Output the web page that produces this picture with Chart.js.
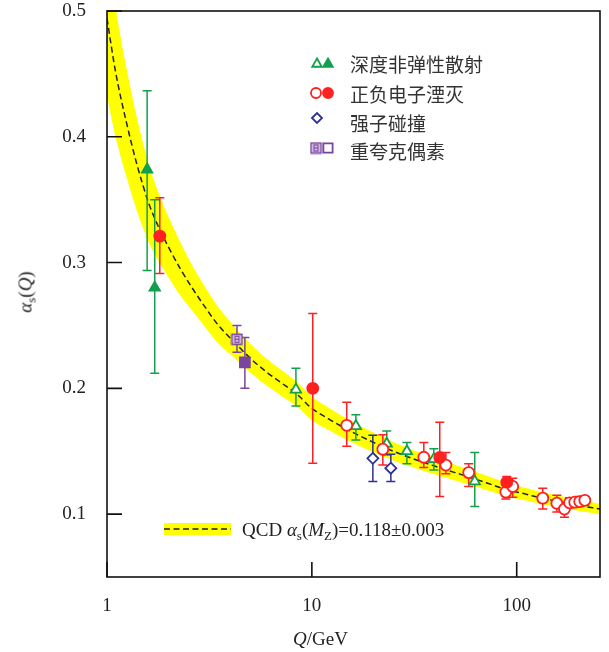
<!DOCTYPE html>
<html>
<head>
<meta charset="utf-8">
<script src="https://cdn.jsdelivr.net/npm/chart.js@4.4.1/dist/chart.umd.min.js"></script>
<style>
    html, body { margin: 0; padding: 0; background: #fff; }
    #wrap { position: relative; width: 609px; height: 652px; }
    #chart { position: absolute; left: 0; top: 0; }
    .lbl { position: absolute; font-family: "Liberation Serif", "Times New Roman", serif; font-size: 19px; color: #222; white-space: nowrap; line-height: 1; }
    .lbl sub { font-size: 13px; vertical-align: -4px; line-height: 0; }
    .cn { position: absolute; left: 350px; font-family: "Noto Sans CJK SC", sans-serif; font-size: 19px; color: #333; white-space: nowrap; line-height: 1; }
    #ytitle { left: 25px; top: 292px; transform: translate(-50%, -50%) rotate(-90deg); }
</style>
</head>
<body>
<div id="wrap">
    <canvas id="chart" width="609" height="652"></canvas>
    <div class="lbl" id="ytitle"><i>α</i><sub>s</sub>(<i>Q</i>)</div>
    <div class="lbl" style="left:293px; top:629px;"><i>Q</i>/GeV</div>
    <div class="lbl" style="left:242px; top:520px;">QCD <i>α</i><sub>s</sub>(<i>M</i><sub>Z</sub>)=0.118±0.003</div>
    <div class="cn" style="top:54px;">深度非弹性散射</div>
    <div class="cn" style="top:84px;">正负电子湮灭</div>
    <div class="cn" style="top:113px;">强子碰撞</div>
    <div class="cn" style="top:141px;">重夸克偶素</div>
</div>
<script>
// axis ticks
const xTicks = [1, 10, 100];
const yTicks = [0.1, 0.2, 0.3, 0.4, 0.5];

// QCD running coupling curve
const qcdQ = [1, 1.1, 1.25, 1.4, 1.6, 1.8, 2, 2.3, 2.6, 3, 3.5, 4, 5, 6, 7, 8.5, 10, 12, 15, 20, 25, 30, 40, 50, 65, 80, 91.2, 110, 130, 160, 200, 255];
const qcdAlpha = [0.494, 0.452, 0.41, 0.378, 0.347, 0.327, 0.312, 0.294, 0.28, 0.265, 0.25, 0.24, 0.224, 0.213, 0.205, 0.195, 0.184, 0.176, 0.167, 0.157, 0.150, 0.145, 0.138, 0.133, 0.127, 0.122, 0.119, 0.116, 0.113, 0.110, 0.107, 0.104];
const qcdSpread = [0.062, 0.052, 0.043, 0.037, 0.031, 0.027, 0.024, 0.021, 0.018, 0.016, 0.0145, 0.013, 0.0115, 0.0108, 0.0103, 0.0098, 0.0094, 0.009, 0.0085, 0.0078, 0.0073, 0.007, 0.0066, 0.0062, 0.0058, 0.0055, 0.0053, 0.005, 0.0048, 0.0046, 0.0044, 0.0042];

// deep inelastic scattering (open / filled triangles)
const disOpenQ = [8.36, 16.4, 23.2, 29.1, 39.4, 62.4];
const disOpenA = [0.199, 0.170, 0.156, 0.150, 0.1437, 0.126];
const disOpenHi = [0.216, 0.179, 0.166, 0.157, 0.152, 0.149];
const disOpenLo = [0.186, 0.159, 0.147, 0.140, 0.135, 0.106];
const disFillQ = [1.57, 1.71];
const disFillA = [0.374, 0.280];
const disFillHi = [0.4365, 0.350];
const disFillLo = [0.2937, 0.212];

// e+e- annihilation (open / filled circles)
const eeOpenQ = [14.8, 22.2, 35.2, 45.1, 58.3, 88.5, 95.6, 134, 157, 171, 181, 192, 203, 215];
const eeOpenA = [0.1706, 0.1516, 0.1452, 0.139, 0.133, 0.1175, 0.122, 0.1127, 0.1087, 0.104, 0.109, 0.1095, 0.110, 0.111];
const eeOpenHi = [0.189, 0.163, 0.157, 0.149, 0.140, 0.123, 0.1286, 0.1206, 0.115, 0.108, 0.113, 0.113, 0.114, 0.114];
const eeOpenLo = [0.154, 0.139, 0.137, 0.132, 0.122, 0.112, 0.1135, 0.104, 0.1016, 0.0976, 0.105, 0.106, 0.106, 0.107];
const eeFillQ = [1.81, 10.1, 42.1, 89.4];
const eeFillA = [0.321, 0.200, 0.145, 0.1254];
const eeFillHi = [0.3516, 0.2595, 0.173, 0.130];
const eeFillLo = [0.2913, 0.1405, 0.114, 0.120];

// hadron collisions (diamonds)
const hadQ = [19.85, 24.3];
const hadA = [0.1444, 0.1365];
const hadHi = [0.1627, 0.1476];
const hadLo = [0.126, 0.126];

// heavy quarkonia (hatched / filled squares)
const quarkHatchQ = [4.31];
const quarkHatchA = [0.239];
const quarkHatchHi = [0.250];
const quarkHatchLo = [0.2286];
const quarkFillQ = [4.71];
const quarkFillA = [0.2206];
const quarkFillHi = [0.2405];
const quarkFillLo = [0.200];

const GREEN = '#12a04e';
const RED = '#ff2020';
const BLUE = '#2e3190';
const PURPLE = '#7a45a0';

function pts(q, a) {
    return q.map((v, i) => ({ x: v, y: a[i] }));
}

function makeHatchSquare() {
    const c = document.createElement('canvas');
    c.width = 13; c.height = 13;
    const g = c.getContext('2d');
    g.fillStyle = '#e6d6f0';
    g.fillRect(1, 1, 11, 11);
    g.strokeStyle = PURPLE;
    g.lineWidth = 1.6;
    g.strokeRect(1.5, 1.5, 10, 10);
    g.lineWidth = 1.2;
    g.strokeRect(4.5, 3.5, 4, 3);
    g.strokeRect(4.5, 6.5, 4, 3);
    return c;
}
const hatchSquare = makeHatchSquare();

const serif = { family: '"Liberation Serif", "Times New Roman", serif', size: 19 };

function markerSet(label, q, a, hi, lo, color, style, radius, filled, order) {
    return {
        label: label,
        data: pts(q, a),
        errHigh: hi,
        errLow: lo,
        errColor: color,
        showLine: false,
        pointStyle: style,
        pointRadius: radius,
        pointBorderWidth: 1.8,
        pointBorderColor: color,
        pointBackgroundColor: filled ? color : '#fff',
        order: order
    };
}

// error bars, drawn above the band and below the markers
const errorBars = {
    id: 'errorBars',
    afterDatasetDraw(chart, args) {
        if (args.index !== 2) return;
        const ctx = chart.ctx;
        const xs = chart.scales.x, ys = chart.scales.y;
        const a = chart.chartArea;
        ctx.save();
        ctx.beginPath();
        ctx.rect(a.left, a.top, a.right - a.left, a.bottom - a.top);
        ctx.clip();
        ctx.lineWidth = 1.5;
        chart.data.datasets.forEach(ds => {
            if (!ds.errHigh) return;
            ctx.strokeStyle = ds.errColor;
            ds.data.forEach((p, i) => {
                const px = xs.getPixelForValue(p.x);
                const top = ys.getPixelForValue(ds.errHigh[i]);
                const bot = ys.getPixelForValue(ds.errLow[i]);
                ctx.beginPath();
                ctx.moveTo(px, top); ctx.lineTo(px, bot);
                ctx.moveTo(px - 4.5, top); ctx.lineTo(px + 4.5, top);
                ctx.moveTo(px - 4.5, bot); ctx.lineTo(px + 4.5, bot);
                ctx.stroke();
            });
        });
        ctx.restore();
    }
};

// box, inward ticks and legend symbols
const frame = {
    id: 'frame',
    afterDraw(chart) {
        const ctx = chart.ctx;
        const a = chart.chartArea;
        const xs = chart.scales.x, ys = chart.scales.y;
        ctx.save();
        ctx.strokeStyle = '#111';
        ctx.lineWidth = 1.6;
        ctx.strokeRect(a.left, a.top, a.right - a.left, a.bottom - a.top);
        ctx.beginPath();
        xTicks.forEach(v => {
            const px = xs.getPixelForValue(v);
            ctx.moveTo(px, a.bottom); ctx.lineTo(px, a.bottom - 15);
        });
        yTicks.forEach(v => {
            const py = ys.getPixelForValue(v);
            ctx.moveTo(a.left, py); ctx.lineTo(a.left + 15, py);
        });
        ctx.stroke();

        // legend symbols
        const draw = (style, x, y, r, color, filled, rot) => {
            ctx.fillStyle = filled ? color : '#fff';
            ctx.strokeStyle = color;
            ctx.lineWidth = 1.8;
            Chart.helpers.drawPoint(ctx, { pointStyle: style, radius: r, rotation: rot || 0, borderWidth: 1.8 }, x, y);
        };
        draw('triangle', 317, 64, 5.5, GREEN, false);
        draw('triangle', 328, 64, 5.5, GREEN, true);
        draw('circle', 316, 93, 5, RED, false);
        draw('circle', 328, 93, 5, RED, true);
        draw('rectRot', 317, 118, 5, BLUE, false);
        draw(hatchSquare, 316, 148, 6, PURPLE, false);
        draw('rect', 328, 148, 6.5, PURPLE, false);

        // QCD legend sample
        ctx.fillStyle = '#ffff00';
        ctx.fillRect(164, 523, 67, 12);
        ctx.strokeStyle = '#222';
        ctx.lineWidth = 1.5;
        ctx.setLineDash([6, 3.5]);
        ctx.beginPath();
        ctx.moveTo(164, 529); ctx.lineTo(231, 529);
        ctx.stroke();
        ctx.restore();
    }
};

document.addEventListener('DOMContentLoaded', function() {
    const ctx = document.getElementById('chart').getContext('2d');
    new Chart(ctx, {
        type: 'scatter',
        data: {
            datasets: [
                {
                    label: 'band low',
                    data: pts(qcdQ, qcdAlpha.map((v, i) => v - qcdSpread[i])),
                    showLine: true,
                    borderWidth: 0,
                    pointRadius: 0,
                    fill: false,
                    cubicInterpolationMode: 'monotone',
                    order: 30
                },
                {
                    label: 'band high',
                    data: pts(qcdQ, qcdAlpha.map((v, i) => v + qcdSpread[i])),
                    showLine: true,
                    borderWidth: 0,
                    pointRadius: 0,
                    fill: '-1',
                    backgroundColor: '#ffff00',
                    cubicInterpolationMode: 'monotone',
                    order: 30
                },
                {
                    label: 'QCD',
                    data: pts(qcdQ, qcdAlpha),
                    showLine: true,
                    borderColor: '#222',
                    borderWidth: 1.5,
                    borderDash: [6, 3.5],
                    pointRadius: 0,
                    fill: false,
                    cubicInterpolationMode: 'monotone',
                    order: 20
                },
                markerSet('DIS open', disOpenQ, disOpenA, disOpenHi, disOpenLo, GREEN, 'triangle', 6, false, 5),
                markerSet('DIS filled', disFillQ, disFillA, disFillHi, disFillLo, GREEN, 'triangle', 6, true, 5),
                markerSet('ee open', eeOpenQ, eeOpenA, eeOpenHi, eeOpenLo, RED, 'circle', 5.5, false, 4),
                markerSet('ee filled', eeFillQ, eeFillA, eeFillHi, eeFillLo, RED, 'circle', 5.5, true, 3),
                markerSet('hadron', hadQ, hadA, hadHi, hadLo, BLUE, 'rectRot', 5.5, false, 2),
                markerSet('quarkonium hatched', quarkHatchQ, quarkHatchA, quarkHatchHi, quarkHatchLo, PURPLE, hatchSquare, 6, false, 1),
                markerSet('quarkonium filled', quarkFillQ, quarkFillA, quarkFillHi, quarkFillLo, PURPLE, 'rect', 7, true, 1)
            ]
        },
        options: {
            responsive: false,
            animation: false,
            layout: { padding: { top: 11, right: 9, left: 0, bottom: 0 } },
            plugins: {
                legend: { display: false },
                tooltip: { enabled: false }
            },
            scales: {
                x: {
                    type: 'logarithmic',
                    min: 1,
                    max: 255,
                    afterBuildTicks: function(s) { s.ticks = xTicks.map(v => ({ value: v })); },
                    afterFit: function(s) { s.height = 75; s.paddingLeft = 0; s.paddingRight = 0; },
                    ticks: {
                        font: serif,
                        color: '#222',
                        padding: 10,
                        maxRotation: 0,
                        autoSkip: false,
                        callback: function(value) { return String(value); }
                    },
                    grid: { display: false },
                    border: { display: false }
                },
                y: {
                    min: 0.05,
                    max: 0.5,
                    afterBuildTicks: function(s) { s.ticks = yTicks.map(v => ({ value: v })); },
                    afterFit: function(s) { s.width = 107; s.paddingTop = 0; s.paddingBottom = 0; },
                    ticks: {
                        font: serif,
                        color: '#222',
                        padding: 13,
                        callback: function(value) { return value.toFixed(1); }
                    },
                    grid: { display: false },
                    border: { display: false }
                }
            }
        },
        plugins: [errorBars, frame]
    });
});
</script>
</body>
</html>
